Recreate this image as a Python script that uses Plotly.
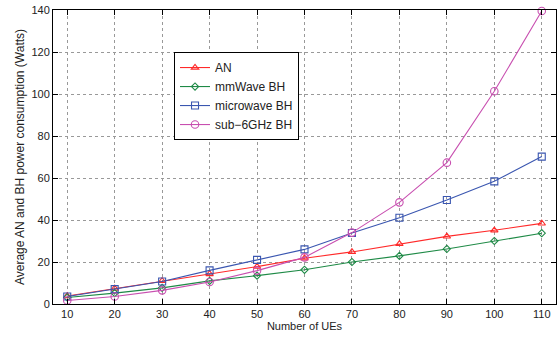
import plotly.graph_objects as go

ues = [10, 20, 30, 40, 50, 60, 70, 80, 90, 100, 110]
an = [3.8, 7.4, 11.0, 14.3, 17.8, 21.8, 24.8, 28.6, 32.2, 35.1, 38.4]
mmwave = [3.1, 5.2, 7.7, 11.0, 13.5, 16.3, 20.0, 22.9, 26.2, 30.0, 33.7]
microwave = [3.6, 7.1, 10.7, 16.0, 21.0, 26.0, 33.8, 41.1, 49.5, 58.4, 70.2]
sub6 = [1.7, 3.6, 6.5, 10.5, 15.9, 22.2, 34.0, 48.4, 67.3, 101.3, 139.5]

names = ["AN", "mmWave BH", "microwave BH", "sub\u22126GHz BH"]
colors = ["#ff2a2a", "#1e8a46", "#3a56b0", "#c84fb0"]
symbols = ["triangle-up-open", "diamond-open", "square-open", "circle-open"]
sizes = [6.5, 5.5, 7, 7.5]

fig = go.Figure()
for y, n, c, s, sz in zip([an, mmwave, microwave, sub6], names, colors, symbols, sizes):
    fig.add_trace(go.Scatter(
        x=ues, y=y, name=n, mode="lines+markers",
        line=dict(color=c, width=1.1),
        marker=dict(symbol=s, size=sz, color=c, line=dict(width=1.1, color=c)),
        cliponaxis=False,
    ))

axis_common = dict(
    showline=True, linecolor="#000", linewidth=1, mirror="ticks",
    ticks="inside", ticklen=5, tickcolor="#000",
    showgrid=True, gridcolor="#999", griddash="dot", gridwidth=1,
    zeroline=False, automargin=False,
    tickfont=dict(family="Liberation Sans, Arial", size=11, color="#222"),
)

fig.update_layout(
    width=559, height=340,
    margin=dict(l=53, r=3, t=10, b=36),
    paper_bgcolor="white", plot_bgcolor="white",
    font=dict(family="Liberation Sans, Arial", size=11, color="#222"),
    xaxis=dict(range=[7, 113], tickvals=ues,
               title=dict(text="Number of UEs", font=dict(size=11), standoff=2),
               **axis_common),
    yaxis=dict(range=[0, 140], tickvals=[0, 20, 40, 60, 80, 100, 120, 140],
               title=dict(text="Average AN and BH power consumption (Watts)", font=dict(size=12), standoff=4),
               **axis_common),
    legend=dict(x=0.2406, y=0.857, xanchor="left", yanchor="top",
                bgcolor="white", bordercolor="#000", borderwidth=1,
                font=dict(size=12), tracegroupgap=0, itemwidth=30),
    showlegend=True,
)

fig.write_html("out.html", config={"displayModeBar": False},
               post_script="document.body.style.margin='0';")
